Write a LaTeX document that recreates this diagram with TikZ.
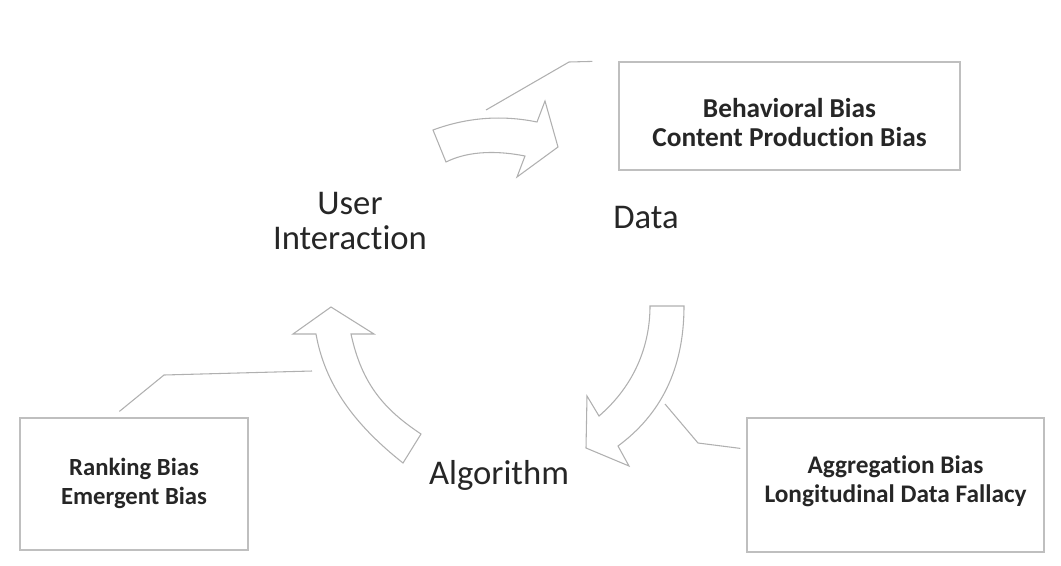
\documentclass[tikz,border=0pt]{standalone}
\usepackage{fontspec}
\setmainfont{Carlito}[Ligatures=NoCommon]
\usetikzlibrary{calc}

\definecolor{boxgray}{HTML}{BFBFBF}
\definecolor{arrowgray}{HTML}{B0B0B0}
\definecolor{textgray}{HTML}{262626}

\begin{document}
\begin{tikzpicture}[x=0.75pt,y=-0.75pt,
  biasbox/.style={draw=boxgray,line width=0.9pt,inner sep=0pt},
  biastext/.style={text=textgray,align=center,inner sep=0pt,
    font=\fontsize{#1}{21.75}\selectfont\bfseries},
  stagelabel/.style={text=textgray,align=center,font=\fontsize{26}{26.5}\selectfont},
  cyclearrow/.style={draw=arrowgray,fill=white,line width=0.8pt,line join=miter},
  callout/.style={draw=arrowgray,line width=0.8pt}]
  \useasboundingbox (0,0) rectangle (1061,565);
  % bias boxes
  \node[biasbox,minimum width=255.75pt,minimum height=81pt] (behav) at (789.5,116) {};
  \node[biasbox,minimum width=171pt,minimum height=99pt] (rank) at (134,484) {};
  \node[biasbox,minimum width=222.75pt,minimum height=100.5pt] (aggr) at (895.5,485) {};
  \node[biastext=20.5] (behav-text) at ($(behav.center)+(0,6.5)$)
    {Behavioral Bias\\Content Production Bias};
  \node[biastext=18.5] (rank-text) at ($(rank.center)+(0,-0.5)$)
    {Ranking Bias\\Emergent Bias};
  \node[biastext=19] (aggr-text) at ($(aggr.center)+(0,-4)$)
    {Aggregation Bias\\Longitudinal Data Fallacy};
  % stages
  \node[stagelabel] (user) at (350,221) {User\\Interaction};
  \node[stagelabel] (data) at (646,217) {Data};
  \node[stagelabel] (algo) at (499,475) {Algorithm};
  % cycle arrows
  \draw[cyclearrow] (433,130) .. controls (468,117) and (503,115) .. (537,122)
    -- (545,101) -- (558,147) -- (517,177) -- (525,156)
    .. controls (500,151) and (470,150) .. (446,162) -- cycle;
  \draw[cyclearrow] (650,306) -- (684,306) .. controls (684,370) and (660,415) .. (618,446)
    -- (629,466) -- (586,448) -- (587,396) -- (599,416)
    .. controls (635,385) and (650,345) .. (650,306) -- cycle;
  \draw[cyclearrow] (331,307) -- (374,334) -- (351,334) .. controls (362,385) and (385,410) .. (421,434)
    -- (403,463) .. controls (355,425) and (325,385) .. (316,334) -- (293,334) -- cycle;
  % callouts
  \coordinate (behav-end) at ($(behav.north west)+(-26,0)$);
  \coordinate (behav-tip) at (486,110);
  \coordinate (rank-end) at (312,371);
  \coordinate (rank-tip) at ($(rank.north west)+(100,-6)$);
  \coordinate (aggr-end) at ($(aggr.north west)+(-6,31)$);
  \coordinate (aggr-tip) at (665,404);
  \draw[callout] (behav-tip) -- (569,62) -- (behav-end);
  \draw[callout] (rank-tip) -- (164,375) -- (rank-end);
  \draw[callout] (aggr-tip) -- (698,443) -- (aggr-end);
\end{tikzpicture}
\end{document}
